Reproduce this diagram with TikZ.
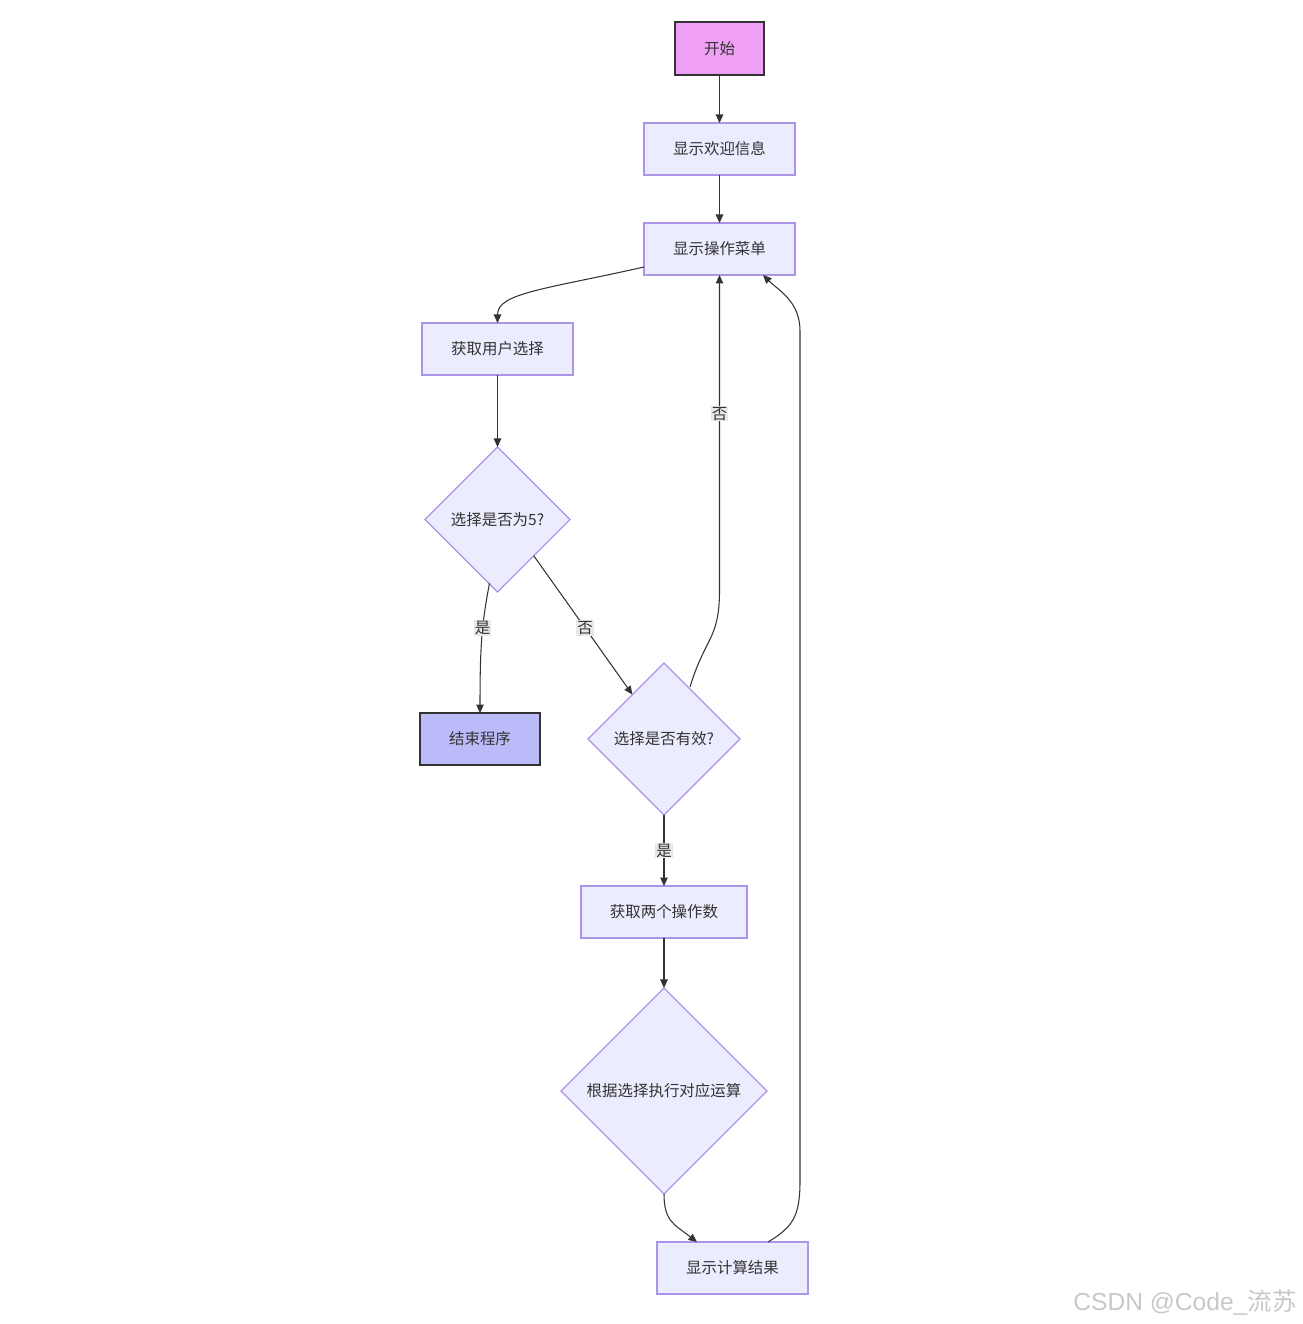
\documentclass[tikz,border=0pt]{standalone}
\usepackage{fontspec}
\newfontfamily\cjk{Noto Sans CJK SC}
\newfontfamily\marksans{Liberation Sans}
\usepackage{tikz}
\usetikzlibrary{positioning, arrows.meta, shapes.geometric}

\definecolor{boxfill}{HTML}{ECECFF}
\definecolor{boxline}{HTML}{AC94E6}
\definecolor{startfill}{HTML}{F09FF6}
\definecolor{endfill}{HTML}{BBBBFA}
\definecolor{darkline}{HTML}{333333}
\definecolor{lblfill}{HTML}{E8E8E8}
\definecolor{markgray}{HTML}{C8C8C8}

\begin{document}
\begin{tikzpicture}[
    % Block Styles
    proc/.style={rectangle, draw=boxline, fill=boxfill, line width=0.7pt, minimum width=3.02cm, minimum height=1.04cm, outer sep=0pt, text=darkline, font=\cjk\fontsize{8.8pt}{10pt}\selectfont},
    decision/.style={diamond, aspect=1, draw=boxline, fill=boxfill, line width=0.7pt, inner sep=0pt, outer sep=0pt, text=darkline, font=\cjk\fontsize{8.8pt}{10pt}\selectfont},
    terminal/.style={rectangle, draw=darkline, line width=1.2pt, minimum height=1.04cm, outer sep=0pt, text=darkline, font=\cjk\fontsize{8.8pt}{10pt}\selectfont},
    % Line & Label Styles
    flow/.style={draw=darkline, line width=0.6pt, -{Triangle[length=0.17cm, width=0.15cm]}},
    lbl/.style={fill=lblfill, inner sep=0.6pt, text=darkline, font=\cjk\fontsize{8.8pt}{10pt}\selectfont},
    wmark/.style={text=markgray, inner sep=0pt, font=\marksans\fontsize{14pt}{16pt}\selectfont}
]
    \useasboundingbox (0,0) rectangle (26.04,-26.48);

    % Nodes
    \node [terminal, fill=startfill, minimum width=1.78cm, minimum height=1.06cm] (start) at (14.39,-0.97) {开始};
    \node [proc, below=0.96cm of start] (welcome) {显示欢迎信息};
    \node [proc, below=0.96cm of welcome] (menu) {显示操作菜单};
    \node [proc, below left=0.96cm and 1.42cm of menu] (choice) {获取用户选择};
    \node [decision, minimum width=2.9cm, minimum height=2.9cm, below=1.44cm of choice] (isfive) {选择是否为5?};
    \node [terminal, fill=endfill, minimum width=2.4cm, below=2.42cm of isfive, xshift=-0.35cm] (stop) {结束程序};
    \node [decision, minimum width=3.04cm, minimum height=3.04cm, right=0.96cm of stop] (valid) {选择是否有效?};
    \node [proc, minimum width=3.32cm, below=1.42cm of valid] (operands) {获取两个操作数};
    \node [decision, minimum width=4.12cm, minimum height=4.12cm, below=1.0cm of operands] (calc) {根据选择执行对应运算};
    \node [proc, below=0.96cm of calc, xshift=1.37cm] (result) {显示计算结果};

    \node [wmark, anchor=east] (mark) at (25.94,-26.06) {CSDN @Code\_{\cjk 流苏}};

    % Connections / Flow
    \draw [flow] (start) -- (welcome);
    \draw [flow] (welcome) -- (menu);
    \draw [flow] ([yshift=-0.36cm]menu.west) .. controls +(-2.0,-0.45) and +(0,0.6) .. (choice.north);
    \draw [flow] (choice) -- (isfive);

    % Decision: exit or continue
    \draw [flow] ([shift={(-0.16,0.18)}]isfive.south) .. controls +(-0.15,-0.8) and +(0,1.4) .. node[lbl, pos=0.42] {是} (stop.north);
    \draw [flow] (isfive.south east) -- node[lbl, pos=0.52] {否} (valid);

    % Invalid choice back to the menu
    \draw [flow] ([shift={(0.52,1.04)}]valid.center) .. controls +(0.3,1.0) and +(0,-1.0) .. ([yshift=-6.3cm]menu.south) -- node[lbl, pos=0.56] {否} (menu.south);
    \draw [flow] (valid) -- node[lbl] {是} (operands);
    \draw [flow] (operands) -- (calc);
    \draw [flow] (calc.south) .. controls +(0,-0.55) and +(-0.45,0.35) .. ([xshift=-0.71cm]result.north);

    % Loop back after the result
    \draw [flow] ([xshift=0.71cm]result.north) .. controls +(0.5,0.3) and +(0,-0.7) .. ++(0.64,1.22) -- ++(0,17.0) .. controls +(0,0.6) and +(0.3,-0.3) .. ([xshift=-0.64cm]menu.south east);

\end{tikzpicture}
\end{document}
